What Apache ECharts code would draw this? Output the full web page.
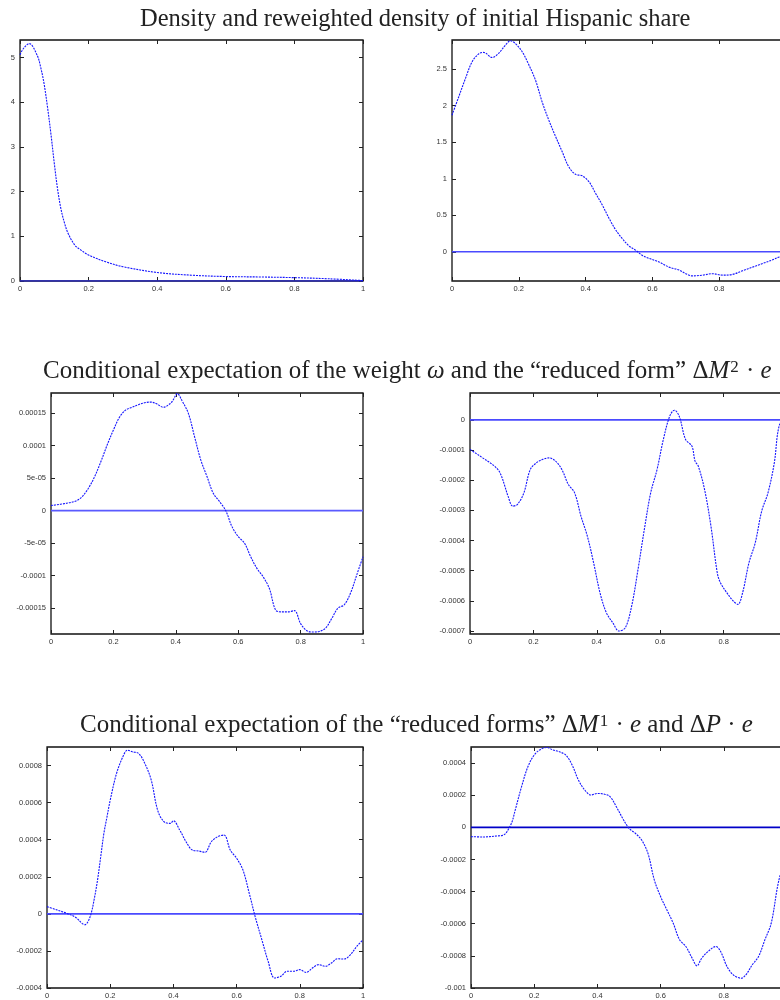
<!DOCTYPE html>
<html><head><meta charset="utf-8">
<script src="https://cdn.jsdelivr.net/npm/echarts@6/dist/echarts.min.js"></script>
<style>html,body{margin:0;padding:0;overflow:hidden;background:#fff}#c{width:800px;height:1000px}</style>
</head><body><div id="c"></div><script>
// ---- data ----
const xTicks = [0, 0.2, 0.4, 0.6, 0.8, 1];
const xTickLabels = ['0', '0.2', '0.4', '0.6', '0.8', '1'];

// Panel 1: density
const p1X = [0, 0.01, 0.027, 0.05, 0.06, 0.07, 0.08, 0.09, 0.1, 0.11, 0.12, 0.13, 0.14, 0.16, 0.18, 0.2, 0.25, 0.3, 0.4, 0.5, 0.6, 0.7, 0.8, 0.9, 1.0];
const p1Y = [5.06, 5.2, 5.31, 5.05, 4.79, 4.42, 3.9, 3.3, 2.63, 2.03, 1.59, 1.29, 1.07, 0.8, 0.68, 0.58, 0.43, 0.32, 0.19, 0.13, 0.10, 0.09, 0.075, 0.05, 0.01];
const p1Ticks = [0, 1, 2, 3, 4, 5];
const p1Labels = ['0', '1', '2', '3', '4', '5'];

// Panel 2: reweighted density
const p2X = [0, 0.02, 0.04, 0.06, 0.08, 0.095, 0.12, 0.14, 0.16, 0.175, 0.19, 0.21, 0.23, 0.25, 0.27, 0.29, 0.31, 0.33, 0.35, 0.37, 0.39, 0.41, 0.43, 0.45, 0.47, 0.49, 0.51, 0.53, 0.55, 0.57, 0.59, 0.62, 0.65, 0.68, 0.70, 0.72, 0.75, 0.78, 0.81, 0.84, 0.87, 0.90, 0.93, 0.96, 0.98, 1.0];
const p2Y = [1.87, 2.12, 2.37, 2.60, 2.71, 2.73, 2.66, 2.72, 2.83, 2.89, 2.85, 2.74, 2.56, 2.35, 2.05, 1.80, 1.58, 1.37, 1.16, 1.06, 1.04, 0.96, 0.80, 0.64, 0.46, 0.30, 0.18, 0.08, 0.02, -0.05, -0.09, -0.14, -0.21, -0.25, -0.30, -0.33, -0.32, -0.30, -0.32, -0.31, -0.26, -0.21, -0.16, -0.11, -0.07, -0.04];
const p2Ticks = [0, 0.5, 1, 1.5, 2, 2.5];
const p2Labels = ['0', '0.5', '1', '1.5', '2', '2.5'];

// Panel 3: conditional expectation of the weight omega
const p3X = [0, 0.05, 0.08, 0.1, 0.12, 0.14, 0.16, 0.18, 0.2, 0.22, 0.24, 0.26, 0.28, 0.3, 0.32, 0.34, 0.36, 0.38, 0.39, 0.405, 0.42, 0.44, 0.46, 0.48, 0.5, 0.52, 0.54, 0.56, 0.58, 0.6, 0.62, 0.64, 0.66, 0.68, 0.7, 0.72, 0.74, 0.76, 0.78, 0.8, 0.82, 0.84, 0.86, 0.88, 0.9, 0.92, 0.94, 0.96, 0.98, 1.0];
const p3Y = [0.77e-5, 1.13e-5, 1.49e-5, 2.16e-5, 3.44e-5, 5.24e-5, 7.55e-5, 10.1e-5, 12.4e-5, 14.4e-5, 15.5e-5, 15.9e-5, 16.3e-5, 16.6e-5, 16.7e-5, 16.4e-5, 15.9e-5, 16.4e-5, 16.9e-5, 18.0e-5, 16.9e-5, 15.0e-5, 11.4e-5, 7.8e-5, 5.24e-5, 2.67e-5, 1.39e-5, 0, -2.47e-5, -4.0e-5, -5.0e-5, -7.1e-5, -8.9e-5, -10.2e-5, -12.0e-5, -15.3e-5, -15.6e-5, -15.6e-5, -15.4e-5, -17.4e-5, -18.5e-5, -18.7e-5, -18.6e-5, -18.1e-5, -16.6e-5, -15.0e-5, -14.5e-5, -12.7e-5, -9.9e-5, -7.1e-5];
const p3Ticks = [-0.00015, -0.0001, -0.00005, 0, 0.00005, 0.0001, 0.00015];
const p3Labels = ['-0.00015', '-0.0001', '-5e-05', '0', '5e-05', '0.0001', '0.00015'];

// Panel 4: reduced form dM2 . e
const p4X = [0, 0.02, 0.04, 0.06, 0.08, 0.095, 0.11, 0.12, 0.135, 0.15, 0.17, 0.19, 0.21, 0.23, 0.25, 0.27, 0.29, 0.31, 0.33, 0.35, 0.37, 0.39, 0.41, 0.43, 0.45, 0.47, 0.49, 0.51, 0.53, 0.55, 0.57, 0.59, 0.61, 0.63, 0.645, 0.66, 0.68, 0.70, 0.71, 0.72, 0.74, 0.76, 0.78, 0.79, 0.81, 0.83, 0.845, 0.86, 0.88, 0.90, 0.92, 0.94, 0.96, 0.975, 1.0];
const p4Y = [-0.98e-4, -1.12e-4, -1.26e-4, -1.40e-4, -1.56e-4, -1.76e-4, -2.20e-4, -2.53e-4, -2.86e-4, -2.80e-4, -2.42e-4, -1.65e-4, -1.42e-4, -1.31e-4, -1.26e-4, -1.37e-4, -1.65e-4, -2.14e-4, -2.42e-4, -3.19e-4, -3.85e-4, -4.74e-4, -5.73e-4, -6.39e-4, -6.72e-4, -7.0e-4, -6.89e-4, -6.17e-4, -4.96e-4, -3.63e-4, -2.42e-4, -1.65e-4, -0.65e-4, 0.12e-4, 0.32e-4, 0.12e-4, -0.65e-4, -0.87e-4, -1.37e-4, -1.53e-4, -2.31e-4, -3.52e-4, -5.07e-4, -5.40e-4, -5.73e-4, -6.0e-4, -6.12e-4, -5.73e-4, -4.74e-4, -4.07e-4, -3.03e-4, -2.42e-4, -1.42e-4, -0.21e-4, 0.3e-4];
const p4Ticks = [-0.0007, -0.0006, -0.0005, -0.0004, -0.0003, -0.0002, -0.0001, 0];
const p4Labels = ['-0.0007', '-0.0006', '-0.0005', '-0.0004', '-0.0003', '-0.0002', '-0.0001', '0'];

// Panel 5: reduced form dM1 . e
const p5X = [0, 0.03, 0.06, 0.09, 0.11, 0.12, 0.13, 0.14, 0.15, 0.16, 0.17, 0.18, 0.19, 0.2, 0.22, 0.24, 0.255, 0.27, 0.29, 0.31, 0.33, 0.35, 0.37, 0.39, 0.4, 0.42, 0.44, 0.46, 0.48, 0.5, 0.52, 0.54, 0.56, 0.58, 0.6, 0.62, 0.64, 0.66, 0.68, 0.7, 0.72, 0.74, 0.76, 0.78, 0.8, 0.82, 0.84, 0.86, 0.88, 0.9, 0.92, 0.94, 0.96, 0.98, 1.0];
const p5Y = [0.39e-4, 0.22e-4, 0.04e-4, -0.18e-4, -0.50e-4, -0.59e-4, -0.41e-4, 0.04e-4, 0.84e-4, 1.83e-4, 3.08e-4, 4.34e-4, 5.24e-4, 6.13e-4, 7.57e-4, 8.47e-4, 8.83e-4, 8.74e-4, 8.65e-4, 8.1e-4, 7.21e-4, 5.6e-4, 4.97e-4, 4.88e-4, 5.02e-4, 4.52e-4, 3.89e-4, 3.44e-4, 3.39e-4, 3.32e-4, 3.89e-4, 4.16e-4, 4.25e-4, 3.44e-4, 3.0e-4, 2.37e-4, 1.11e-4, -0.23e-4, -1.40e-4, -2.57e-4, -3.46e-4, -3.37e-4, -3.10e-4, -3.10e-4, -3.01e-4, -3.16e-4, -2.92e-4, -2.74e-4, -2.83e-4, -2.65e-4, -2.42e-4, -2.44e-4, -2.21e-4, -1.76e-4, -1.40e-4];
const p5Ticks = [-0.0004, -0.0002, 0, 0.0002, 0.0004, 0.0006, 0.0008];
const p5Labels = ['-0.0004', '-0.0002', '0', '0.0002', '0.0004', '0.0006', '0.0008'];

// Panel 6: reduced form dP . e
const p6X = [0, 0.04, 0.08, 0.1, 0.11, 0.12, 0.13, 0.14, 0.16, 0.18, 0.2, 0.22, 0.24, 0.26, 0.28, 0.3, 0.32, 0.34, 0.36, 0.38, 0.4, 0.42, 0.44, 0.46, 0.48, 0.5, 0.52, 0.54, 0.56, 0.58, 0.6, 0.62, 0.64, 0.66, 0.68, 0.7, 0.715, 0.73, 0.75, 0.775, 0.79, 0.81, 0.83, 0.855, 0.87, 0.89, 0.91, 0.93, 0.95, 0.97, 0.98, 1.0];
const p6Y = [-0.58e-4, -0.60e-4, -0.54e-4, -0.50e-4, -0.37e-4, -0.06e-4, 0.35e-4, 1.08e-4, 2.53e-4, 3.77e-4, 4.5e-4, 4.85e-4, 4.97e-4, 4.81e-4, 4.70e-4, 4.50e-4, 3.88e-4, 2.94e-4, 2.32e-4, 2.01e-4, 2.11e-4, 2.07e-4, 1.91e-4, 1.28e-4, 0.56e-4, -0.06e-4, -0.37e-4, -0.79e-4, -1.62e-4, -3.27e-4, -4.31e-4, -5.14e-4, -5.97e-4, -7.0e-4, -7.42e-4, -8.15e-4, -8.62e-4, -8.15e-4, -7.73e-4, -7.42e-4, -7.73e-4, -8.66e-4, -9.18e-4, -9.39e-4, -9.18e-4, -8.56e-4, -8.04e-4, -7.0e-4, -5.97e-4, -3.69e-4, -2.86e-4, -1.5e-4];
const p6Ticks = [-0.001, -0.0008, -0.0006, -0.0004, -0.0002, 0, 0.0002, 0.0004];
const p6Labels = ['-0.001', '-0.0008', '-0.0006', '-0.0004', '-0.0002', '0', '0.0002', '0.0004'];

const zeroX = [0, 1];
const zeroY = [0, 0];

// ---- layout ----
const panels = [
  { g: { left: 20, top: 40, width: 343, height: 241 }, min: 0, max: 5.39, x: p1X, y: p1Y, t: p1Ticks, l: p1Labels, zc: '#2a2acc' },
  { g: { left: 452, top: 40, width: 334, height: 241 }, min: -0.4, max: 2.9, x: p2X, y: p2Y, t: p2Ticks, l: p2Labels, zc: '#4a4aff' },
  { g: { left: 51, top: 393, width: 312, height: 241 }, min: -0.00019, max: 0.000181, x: p3X, y: p3Y, t: p3Ticks, l: p3Labels, zc: '#5a5aff' },
  { g: { left: 470, top: 393, width: 317, height: 241 }, min: -0.00071, max: 0.000089, x: p4X, y: p4Y, t: p4Ticks, l: p4Labels, zc: '#4a4aff' },
  { g: { left: 47, top: 747, width: 316, height: 241 }, min: -0.0004, max: 0.0009, x: p5X, y: p5Y, t: p5Ticks, l: p5Labels, zc: '#4a4aff' },
  { g: { left: 471, top: 747, width: 316, height: 241 }, min: -0.001, max: 0.0005, x: p6X, y: p6Y, t: p6Ticks, l: p6Labels, zc: '#0000c8' }
];

const labelFont = { fontFamily: 'Liberation Sans', fontSize: 7.5, color: '#333' };
const grid = [], xAxis = [], yAxis = [], series = [];
panels.forEach((p, i) => {
  grid.push(Object.assign({ show: true, borderColor: '#111', borderWidth: 1.3, backgroundColor: 'transparent' }, p.g));
  const tickCommon = { show: true, inside: true, length: 4, lineStyle: { color: '#222', width: 1 } };
  const noLine = { show: false, onZero: false };
  const fmt = (ticks, labels) => (v) => {
    let best = 0, d = Infinity;
    ticks.forEach((t, k) => { const dd = Math.abs(t - v); if (dd < d) { d = dd; best = k; } });
    return labels[best];
  };
  xAxis.push({ gridIndex: i, type: 'value', min: 0, max: 1, position: 'bottom',
    axisLine: noLine, splitLine: { show: false },
    axisTick: Object.assign({ customValues: xTicks }, tickCommon),
    axisLabel: Object.assign({ customValues: xTicks, margin: 4, formatter: fmt(xTicks, xTickLabels) }, labelFont) });
  xAxis.push({ gridIndex: i, type: 'value', min: 0, max: 1, position: 'top',
    axisLine: noLine, splitLine: { show: false },
    axisTick: Object.assign({ customValues: xTicks }, tickCommon), axisLabel: { show: false } });
  yAxis.push({ gridIndex: i, type: 'value', min: p.min, max: p.max, position: 'left',
    axisLine: noLine, splitLine: { show: false },
    axisTick: Object.assign({ customValues: p.t }, tickCommon),
    axisLabel: Object.assign({ customValues: p.t, margin: 5, formatter: fmt(p.t, p.l) }, labelFont) });
  yAxis.push({ gridIndex: i, type: 'value', min: p.min, max: p.max, position: 'right',
    axisLine: noLine, splitLine: { show: false },
    axisTick: Object.assign({ customValues: p.t }, tickCommon), axisLabel: { show: false } });
  series.push({ type: 'line', xAxisIndex: 2 * i, yAxisIndex: 2 * i, showSymbol: false, silent: true,
    data: zeroX.map((x, k) => [x, zeroY[k]]), lineStyle: { color: p.zc, width: 1.6, type: 'solid' }, z: 2 });
  series.push({ type: 'line', xAxisIndex: 2 * i, yAxisIndex: 2 * i, showSymbol: false, silent: true, smooth: 0.35,
    data: p.x.map((x, k) => [x, p.y[k]]), lineStyle: { color: '#1515ff', width: 1.1, type: [2, 1] }, z: 3 });
});

const mk = (size) => {
  const base = { fontFamily: 'Liberation Serif', fontSize: size, fontWeight: 'normal', color: '#222' };
  return Object.assign({
    rich: {
      n: Object.assign({}, base),
      i: Object.assign({}, base, { fontStyle: 'italic' }),
      s: Object.assign({}, base, { fontSize: Math.round(size * 0.67), verticalAlign: 'top', padding: [0, 1, 0, 1] })
    }
  }, base);
};
const title = [
  { text: 'Density and reweighted density of initial Hispanic share', left: 140, top: 7, padding: 0, textStyle: mk(24.5) },
  { text: '{n|Conditional expectation of the weight }{i|ω}{n| and the “reduced form” Δ}{i|M}{s|2}{n| · }{i|e}', left: 43, top: 359, padding: 0, textStyle: mk(25) },
  { text: '{n|Conditional expectation of the “reduced forms” Δ}{i|M}{s|1}{n| · }{i|e}{n| and Δ}{i|P}{n| · }{i|e}', left: 80, top: 713, padding: 0, textStyle: mk(25) }
];

const chart = echarts.init(document.getElementById('c'), null, { renderer: 'canvas' });
chart.setOption({ animation: false, backgroundColor: '#fff', title, grid, xAxis, yAxis, series });
</script></body></html>
